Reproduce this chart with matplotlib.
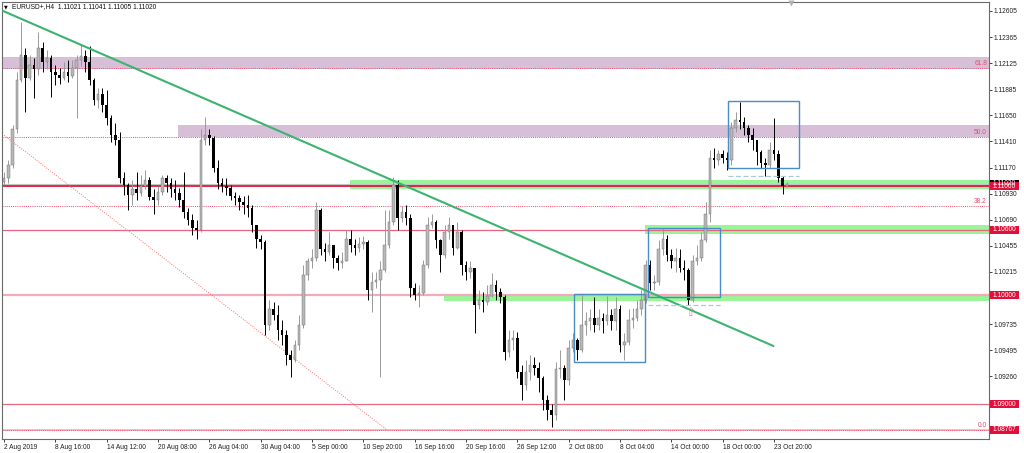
import numpy as np
import matplotlib
matplotlib.use('Agg')
import matplotlib.pyplot as plt
from matplotlib.patches import Rectangle
from matplotlib.transforms import blended_transform_factory

plt.rcParams['font.family'] = ['Liberation Sans', 'DejaVu Sans']

# EURUSD candles, one bar per 8 hours
opens = [
    1.1104, 1.1107, 1.1119, 1.1152, 1.1197, 1.1220, 1.1199, 1.1211, 1.1207, 1.1227,
    1.1214, 1.1217, 1.1205, 1.1202, 1.1199, 1.1205, 1.1201, 1.1208, 1.1216, 1.1219,
    1.1214, 1.1197, 1.1179, 1.1184, 1.1174, 1.1162, 1.1147, 1.1142, 1.1107, 1.1101,
    1.1092, 1.1097, 1.1094, 1.1100, 1.1106, 1.1090, 1.1087, 1.1095, 1.1107, 1.1103,
    1.1097, 1.1094, 1.1087, 1.1076, 1.1069, 1.1062, 1.1060, 1.1142, 1.1147, 1.1144,
    1.1117, 1.1103, 1.1100, 1.1098, 1.1091, 1.1089, 1.1085, 1.1083, 1.1080, 1.1064,
    1.1052, 1.1049, 1.0973, 1.0987, 1.0982, 1.0968, 1.0964, 1.0945, 1.0941, 1.0954,
    1.0973, 1.1019, 1.1031, 1.1034, 1.1078, 1.1042, 1.1040, 1.1046, 1.1034, 1.1030,
    1.1031, 1.1052, 1.1046, 1.1043, 1.1047, 1.1049, 1.1005, 1.1012, 1.1014, 1.1023,
    1.1046, 1.1067, 1.1101, 1.1071, 1.1076, 1.1071, 1.1007, 1.1000, 1.1002, 1.1028,
    1.1064, 1.1067, 1.1051, 1.1037, 1.1058, 1.1064, 1.1043, 1.1058, 1.1028, 1.1021,
    1.1025, 1.0991, 1.0996, 1.0994, 1.0999, 1.1009, 1.1003, 1.0998, 1.0948, 1.0959,
    1.0961, 1.0930, 1.0918, 1.0930, 1.0936, 1.0933, 1.0924, 1.0904, 1.0895, 1.0890,
    1.0932, 1.0933, 1.0922, 1.0952, 1.0959, 1.0950, 1.0973, 1.0976, 1.0979, 1.0973,
    1.0979, 1.0976, 1.0982, 1.0976, 1.0987, 1.0954, 1.0957, 1.0977, 1.0979, 1.0987,
    1.0996, 1.1028, 1.1011, 1.1012, 1.1042, 1.1052, 1.1037, 1.1031, 1.1034, 1.1025,
    1.1023, 1.0996, 1.1031, 1.1034, 1.1051, 1.1074, 1.1126, 1.1124, 1.1129, 1.1126,
    1.1124, 1.1153, 1.1161, 1.1159, 1.1153, 1.1147, 1.1142, 1.1131, 1.1121, 1.1119,
    1.1133, 1.1129, 1.1107, 1.1100,
]
highs = [
    1.1113, 1.1124, 1.1156, 1.1205, 1.1250, 1.1227, 1.1220, 1.1217, 1.1241, 1.1232,
    1.1225, 1.1220, 1.1211, 1.1208, 1.1214, 1.1216, 1.1216, 1.1220, 1.1229, 1.1225,
    1.1228, 1.1199, 1.1190, 1.1190, 1.1188, 1.1165, 1.1158, 1.1150, 1.1113, 1.1103,
    1.1106, 1.1113, 1.1110, 1.1115, 1.1108, 1.1097, 1.1100, 1.1110, 1.1110, 1.1107,
    1.1106, 1.1098, 1.1113, 1.1080, 1.1074, 1.1069, 1.1152, 1.1163, 1.1152, 1.1146,
    1.1124, 1.1107, 1.1107, 1.1101, 1.1095, 1.1092, 1.1091, 1.1092, 1.1083, 1.1064,
    1.1055, 1.1051, 1.0996, 1.0994, 1.0991, 1.0977, 1.0968, 1.0950, 1.0959, 1.0982,
    1.1028, 1.1034, 1.1042, 1.1085, 1.1080, 1.1048, 1.1058, 1.1046, 1.1037, 1.1040,
    1.1060, 1.1060, 1.1052, 1.1053, 1.1054, 1.1051, 1.1021, 1.1021, 1.1031, 1.1078,
    1.1078, 1.1108, 1.1106, 1.1082, 1.1083, 1.1074, 1.1011, 1.1009, 1.1032, 1.1072,
    1.1074, 1.1069, 1.1052, 1.1064, 1.1072, 1.1064, 1.1067, 1.1060, 1.1031, 1.1031,
    1.1025, 1.1005, 1.1003, 1.1009, 1.1020, 1.1014, 1.1007, 1.1000, 1.0968, 1.0968,
    1.0966, 1.0936, 1.0941, 1.0945, 1.0943, 1.0939, 1.0926, 1.0909, 1.0900, 1.0939,
    1.0950, 1.0936, 1.0959, 1.0965, 1.0961, 1.1000, 1.0985, 1.0987, 1.0998, 1.0987,
    1.0984, 1.0999, 1.0987, 1.0998, 1.0991, 1.0965, 1.0987, 1.0988, 1.0996, 1.1005,
    1.1032, 1.1032, 1.1019, 1.1051, 1.1062, 1.1055, 1.1042, 1.1043, 1.1042, 1.1032,
    1.1025, 1.1037, 1.1046, 1.1058, 1.1085, 1.1133, 1.1135, 1.1133, 1.1133, 1.1131,
    1.1159, 1.1168, 1.1177, 1.1163, 1.1156, 1.1153, 1.1142, 1.1133, 1.1126, 1.1140,
    1.1162, 1.1133, 1.1109, 1.1104,
]
lows = [
    1.1101, 1.1103, 1.1117, 1.1149, 1.1195, 1.1168, 1.1197, 1.1181, 1.1202, 1.1205,
    1.1207, 1.1182, 1.1193, 1.1194, 1.1197, 1.1195, 1.1199, 1.1162, 1.1210, 1.1205,
    1.1193, 1.1174, 1.1172, 1.1168, 1.1156, 1.1140, 1.1138, 1.1103, 1.1092, 1.1078,
    1.1083, 1.1087, 1.1091, 1.1097, 1.1087, 1.1074, 1.1083, 1.1092, 1.1095, 1.1090,
    1.1087, 1.1081, 1.1071, 1.1064, 1.1055, 1.1052, 1.1058, 1.1138, 1.1138, 1.1113,
    1.1097, 1.1095, 1.1092, 1.1087, 1.1083, 1.1078, 1.1074, 1.1072, 1.1058, 1.1043,
    1.1042, 1.0964, 1.0968, 1.0977, 1.0959, 1.0954, 1.0936, 1.0925, 1.0939, 1.0950,
    1.0970, 1.1014, 1.1025, 1.1031, 1.1037, 1.1031, 1.1037, 1.1025, 1.1023, 1.1025,
    1.1031, 1.1040, 1.1037, 1.1040, 1.1042, 1.0996, 1.0985, 1.1007, 1.0925, 1.1021,
    1.1043, 1.1064, 1.1060, 1.1067, 1.1064, 1.0998, 1.0996, 1.0989, 1.1000, 1.1025,
    1.1062, 1.1043, 1.1021, 1.1034, 1.1052, 1.1037, 1.1042, 1.1019, 1.1014, 1.1016,
    1.0965, 1.0987, 1.0985, 1.0991, 1.0998, 1.0996, 1.0993, 1.0941, 1.0943, 1.0950,
    1.0924, 1.0904, 1.0913, 1.0922, 1.0927, 1.0911, 1.0895, 1.0886, 1.0879, 1.0886,
    1.0924, 1.0904, 1.0918, 1.0948, 1.0941, 1.0948, 1.0964, 1.0968, 1.0966, 1.0968,
    1.0965, 1.0973, 1.0968, 1.0968, 1.0948, 1.0941, 1.0954, 1.0970, 1.0976, 1.0982,
    1.0993, 1.1005, 1.1005, 1.1009, 1.1037, 1.1031, 1.1025, 1.1021, 1.1021, 1.1014,
    1.0991, 1.0994, 1.1028, 1.1031, 1.1049, 1.1067, 1.1117, 1.1119, 1.1121, 1.1115,
    1.1119, 1.1150, 1.1152, 1.1147, 1.1140, 1.1133, 1.1119, 1.1117, 1.1109, 1.1117,
    1.1124, 1.1104, 1.1093, 1.1099,
]
closes = [
    1.1107, 1.1119, 1.1152, 1.1197, 1.1220, 1.1199, 1.1211, 1.1207, 1.1227, 1.1214,
    1.1217, 1.1205, 1.1202, 1.1199, 1.1205, 1.1201, 1.1208, 1.1216, 1.1219, 1.1214,
    1.1197, 1.1179, 1.1184, 1.1174, 1.1162, 1.1147, 1.1142, 1.1107, 1.1101, 1.1092,
    1.1097, 1.1094, 1.1100, 1.1106, 1.1090, 1.1087, 1.1095, 1.1107, 1.1103, 1.1097,
    1.1094, 1.1087, 1.1076, 1.1069, 1.1062, 1.1060, 1.1142, 1.1147, 1.1144, 1.1117,
    1.1103, 1.1100, 1.1098, 1.1091, 1.1089, 1.1085, 1.1083, 1.1080, 1.1064, 1.1052,
    1.1049, 1.0973, 1.0987, 1.0982, 1.0968, 1.0964, 1.0945, 1.0941, 1.0954, 1.0973,
    1.1019, 1.1031, 1.1034, 1.1078, 1.1042, 1.1040, 1.1046, 1.1034, 1.1030, 1.1031,
    1.1052, 1.1046, 1.1043, 1.1047, 1.1049, 1.1005, 1.1012, 1.1014, 1.1023, 1.1046,
    1.1067, 1.1101, 1.1071, 1.1076, 1.1071, 1.1007, 1.1000, 1.1002, 1.1028, 1.1064,
    1.1067, 1.1051, 1.1037, 1.1058, 1.1064, 1.1043, 1.1058, 1.1028, 1.1021, 1.1025,
    1.0991, 1.0996, 1.0994, 1.0999, 1.1009, 1.1003, 1.0998, 1.0948, 1.0959, 1.0961,
    1.0930, 1.0918, 1.0930, 1.0936, 1.0933, 1.0924, 1.0904, 1.0895, 1.0890, 1.0932,
    1.0933, 1.0922, 1.0952, 1.0959, 1.0950, 1.0973, 1.0976, 1.0979, 1.0973, 1.0979,
    1.0976, 1.0982, 1.0976, 1.0987, 1.0954, 1.0957, 1.0977, 1.0979, 1.0987, 1.0996,
    1.1028, 1.1011, 1.1012, 1.1042, 1.1052, 1.1037, 1.1031, 1.1034, 1.1025, 1.1023,
    1.0996, 1.1031, 1.1034, 1.1051, 1.1074, 1.1126, 1.1124, 1.1129, 1.1126, 1.1124,
    1.1153, 1.1161, 1.1159, 1.1153, 1.1147, 1.1142, 1.1131, 1.1121, 1.1119, 1.1133,
    1.1129, 1.1107, 1.1100, 1.1102,
]

date_bars = [0, 12, 24, 36, 48, 60, 72, 84, 96, 108, 120, 132, 144, 156, 168, 180]
date_labels = ['2 Aug 2019', '8 Aug 16:00', '14 Aug 12:00', '20 Aug 08:00',
               '26 Aug 04:00', '30 Aug 04:00', '5 Sep 00:00', '10 Sep 20:00',
               '16 Sep 16:00', '20 Sep 16:00', '26 Sep 12:00', '2 Oct 08:00',
               '8 Oct 04:00', '14 Oct 00:00', '18 Oct 00:00', '23 Oct 20:00']

# scale ticks; the ones sitting under a price flag are hidden there
price_ticks = [1.12605, 1.12365, 1.12125, 1.11885, 1.11650, 1.11410, 1.11170,
               1.10930, 1.10690, 1.10455, 1.10215, 1.09975, 1.09735, 1.09495,
               1.09260, 1.09020, 1.08780]
hidden_ticks = [1.09975, 1.08780]

# drawn objects
purple_zones = [(-1, 1.12074, 1.12184), (40.7, 1.11451, 1.11561)]
green_zones = [(80.9, 1.10974, 1.11057), (149.8, 1.10562, 1.10644), (102.9, 1.09948, 1.10012)]
red_levels = [(1.11000, '#e3143c', 1.3), (1.10600, '#e8647c', 0.9),
              (1.10000, '#f3aabb', 1.6), (1.09000, '#e66a82', 0.9),
              (1.08767, '#f5b8c4', 1.3)]
bid_price = 1.11020
fib_low, fib_high = 1.08767, 1.14136
fib_pcts = [0.0, 38.2, 50.0, 61.8]
trend_pts = ([-0.23, 179.8], [1.12605, 1.09536])
fib_diag = ([-0.47, 89.5], [1.1148, 1.08767])
boxes = [(133.2, 149.8, 1.09389, 1.10012), (150.5, 167.4, 1.09985, 1.10617),
         (169.2, 185.8, 1.11167, 1.11781)]
box_dashes = [(150.5, 167.4, 1.09911), (169.2, 185.8, 1.11093)]
arrow_at = (160.4, 1.09838)
flags = [(1.11020, '1.11020', '#000000'), (1.11000, '1.11000', '#e0103a'),
         (1.10600, '1.10600', '#e0103a'), (1.10000, '1.10000', '#e0103a'),
         (1.09000, '1.09000', '#e0103a'), (1.08767, '1.08767', '#e0103a')]

fig = plt.figure(figsize=(10.24, 4.53), dpi=100)
ax = fig.add_axes([2 / 1024, 14 / 453, 987 / 1024, 437 / 453])
ax.set_xlim(-0.47, 230.25)
ax.set_ylim(1.08683, 1.12687)

# zones in the background
for x0, lo, hi in purple_zones:
    ax.add_patch(Rectangle((x0, lo), 240 - x0, hi - lo, fc='#d8bfd8', ec='none', zorder=1))
for x0, lo, hi in green_zones:
    ax.add_patch(Rectangle((x0, lo), 240 - x0, hi - lo, fc='#98f598', ec='none', zorder=1))

ax.axhline(bid_price, color='#c4c4c4', lw=0.8, zorder=2)
for y, col, lw in red_levels:
    ax.axhline(y, color=col, lw=lw, zorder=2)

for p in fib_pcts:
    y = fib_low + (fib_high - fib_low) * p / 100
    ax.axhline(y, color='#e8506c', lw=0.7, ls=(0, (1, 1.2)), zorder=2)
    ax.text(0.998, y + 0.00005, f'{p:.1f}', transform=blended_transform_factory(ax.transAxes, ax.transData),
            ha='right', va='bottom', fontsize=4.8, color='#e0506e', zorder=3)
ax.plot(*fib_diag, color='#ff6a6a', lw=0.7, ls=(0, (1, 1.5)), zorder=2)

# candles
x = np.arange(len(closes))
o, h, l, c = (np.array(v) for v in (opens, highs, lows, closes))
up = c >= o
bot = np.minimum(o, c)
body = np.maximum(np.abs(c - o), 0.00005)
ax.vlines(x[up], l[up], h[up], color='#9a9a9a', lw=0.7, zorder=4)
ax.vlines(x[~up], l[~up], h[~up], color='#000000', lw=0.7, zorder=4)
ax.bar(x[up], body[up], bottom=bot[up], width=0.6, color='#b8b8b8', edgecolor='#6a6a6a', lw=0.3, zorder=5)
ax.bar(x[~up], body[~up], bottom=bot[~up], width=0.6, color='#000000', lw=0, zorder=5)

ax.plot(*trend_pts, color='#3cb371', lw=1.5, zorder=6)

for x0, x1, lo, hi in boxes:
    ax.add_patch(Rectangle((x0, lo), x1 - x0, hi - lo, fc='none', ec='#4a8cc8', lw=1.0, zorder=7))
for x0, x1, y in box_dashes:
    ax.plot([x0, x1], [y, y], color='#a8c8e6', lw=0.9, ls=(0, (4, 2)), zorder=7)

ax.text(*arrow_at, '\u21e7', family='DejaVu Sans', fontsize=8.5, color='#f07888',
        ha='center', va='center', zorder=7)
ax.plot([184], [0.997], marker='v', ms=4, color='#b0b0b0', mec='none',
        transform=blended_transform_factory(ax.transData, ax.transAxes), clip_on=False, zorder=7)

# axes styling
for s in ax.spines.values():
    s.set_color('#6a6a6a')
    s.set_linewidth(0.8)
ax.yaxis.tick_right()
ax.set_yticks(price_ticks)
ax.set_yticklabels(['' if v in hidden_ticks else f'{v:.5f}' for v in price_ticks])
ax.set_xticks(date_bars)
ax.set_xticklabels(date_labels, ha='left')
ax.tick_params(axis='both', direction='out', length=2.2, width=0.6, pad=1.2,
               labelsize=4.8, colors='#202020')

# price flags on the right scale
tr = blended_transform_factory(ax.transAxes, ax.transData)
for y, txt, col in flags:
    ax.add_patch(Rectangle((1.001, y - 0.00037), 0.0294, 0.00074, transform=tr,
                           fc=col, ec='none', clip_on=False, zorder=10))
    ax.text(1.0155, y, txt, transform=tr, ha='center', va='center', fontsize=4.8,
            color='white', clip_on=False, zorder=11)

fig.text(4 / 1024, 1 - 7 / 453, '\u25bc', family='DejaVu Sans', fontsize=3.5, va='center')
fig.text(12 / 1024, 1 - 7 / 453, 'EURUSD+,H4  1.11021 1.11041 1.11005 1.11020',
         fontsize=4.8, va='center', ha='left', color='#101010')

fig.savefig('out.png', dpi=100, facecolor='white')
